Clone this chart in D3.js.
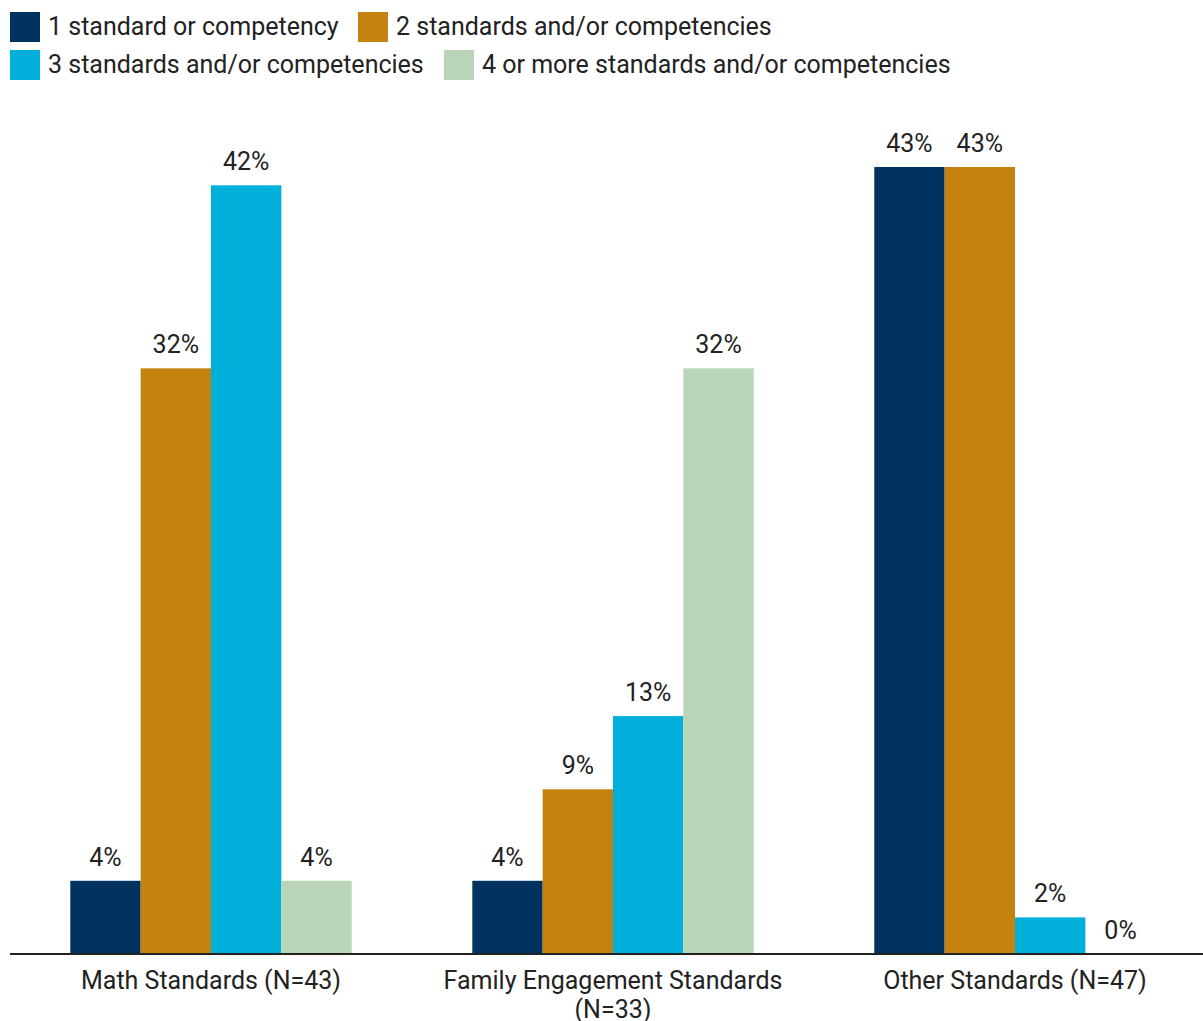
<!DOCTYPE html>
<html>
<head>
<meta charset="utf-8">
<script src="https://cdn.jsdelivr.net/npm/d3@7"></script>
<style>
  html, body { margin: 0; padding: 0; background: #fff; }
  svg { display: block; font-family: Roboto, "Noto Sans", sans-serif; }
</style>
</head>
<body>
<svg id="chart" width="1203" height="1021"></svg>
<script>
// Share of programs by number of standards/competencies addressed
const categories = ["Math Standards (N=43)", "Family Engagement Standards (N=33)", "Other Standards (N=47)"];
const categoryLines = [["Math Standards (N=43)"], ["Family Engagement Standards", "(N=33)"], ["Other Standards (N=47)"]];
const seriesNames = [
  "1 standard or competency",
  "2 standards and/or competencies",
  "3 standards and/or competencies",
  "4 or more standards and/or competencies"
];
const seriesColors = ["#00325F", "#C4820F", "#00B0DA", "#B9D4B7"];
const valuesOne   = [4, 4, 43];
const valuesTwo   = [32, 9, 43];
const valuesThree = [42, 13, 2];
const valuesFour  = [4, 32, 0];
const seriesValues = [valuesOne, valuesTwo, valuesThree, valuesFour];

const svg = d3.select("#chart");
const textColor = "#222";
const fontSize = 25;

const x0 = d3.scaleBand().domain(categories).range([10, 1216]).paddingInner(0.3).paddingOuter(0.15);
const x1 = d3.scaleBand().domain(d3.range(seriesNames.length)).range([0, x0.bandwidth()]);
const y = d3.scaleLinear().domain([0, 43]).range([954, 167]);

// Legend
const legendItems = [
  { i: 0, x: 10, y: 12 },
  { i: 1, x: 358, y: 12 },
  { i: 2, x: 10, y: 50 },
  { i: 3, x: 444, y: 50 }
];
const legend = svg.append("g");
legendItems.forEach(d => {
  legend.append("rect").attr("x", d.x).attr("y", d.y).attr("width", 30).attr("height", 30)
    .attr("fill", seriesColors[d.i]);
  legend.append("text").attr("x", d.x + 38).attr("y", d.y + 23)
    .attr("font-size", fontSize).attr("fill", textColor).text(seriesNames[d.i]);
});

// Bars
const groups = svg.append("g").selectAll("g").data(categories).join("g")
  .attr("transform", c => `translate(${x0(c)},0)`);

groups.each(function(c, ci) {
  const g = d3.select(this);
  seriesValues.forEach((vals, si) => {
    const v = vals[ci];
    g.append("rect")
      .attr("x", x1(si)).attr("width", x1.bandwidth())
      .attr("y", y(v)).attr("height", y(0) - y(v))
      .attr("fill", seriesColors[si]);
    g.append("text")
      .attr("x", x1(si) + x1.bandwidth() / 2).attr("y", y(v) - 15)
      .attr("text-anchor", "middle").attr("font-size", fontSize).attr("fill", textColor)
      .text(v + "%");
  });
});

// Baseline
svg.append("line").attr("x1", 10).attr("x2", 1203).attr("y1", y(0)).attr("y2", y(0))
  .attr("stroke", "#222").attr("stroke-width", 2);

// Category labels
categories.forEach((c, ci) => {
  const t = svg.append("text").attr("x", x0(c) + x0.bandwidth() / 2).attr("y", 989)
    .attr("text-anchor", "middle").attr("font-size", fontSize).attr("fill", textColor);
  categoryLines[ci].forEach((line, li) => {
    t.append("tspan").attr("x", x0(c) + x0.bandwidth() / 2).attr("dy", li === 0 ? 0 : 29).text(line);
  });
});
</script>
</body>
</html>
